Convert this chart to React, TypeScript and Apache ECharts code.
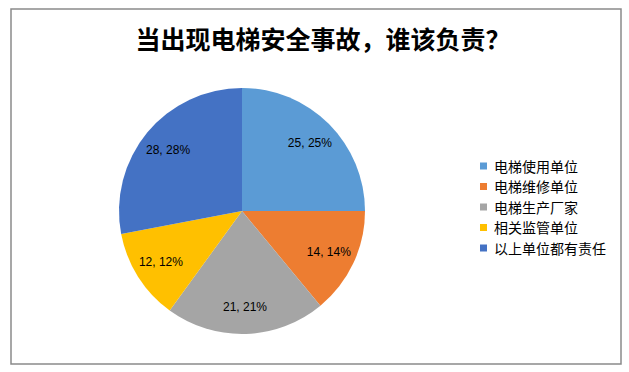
import React, { useEffect, useRef } from "react";
import * as echarts from "echarts";

const title = "当出现电梯安全事故，谁该负责？";
const categories = ["电梯使用单位", "电梯维修单位", "电梯生产厂家", "相关监管单位", "以上单位都有责任"];
const values = [25, 14, 21, 12, 28];
const colors = ["#5B9BD5", "#ED7D31", "#A5A5A5", "#FFC000", "#4472C4"];

export default function App() {
  const ref = useRef<HTMLDivElement>(null);
  useEffect(() => {
    const chart = echarts.init(ref.current!, null, { renderer: "svg" });
    const data = categories.map((name, i) => ({ name, value: values[i] }));
    const total = values.reduce((a, b) => a + b, 0);
    chart.setOption({
      animation: false,
      backgroundColor: "#ffffff",
      color: colors,
      title: {
        text: title,
        left: 318,
        top: 20,
        textAlign: "center",
        textStyle: {
          fontFamily: "Noto Sans CJK SC",
          fontWeight: "bold",
          fontSize: 25,
          color: "#000000",
        },
      },
      graphic: [
        {
          type: "rect",
          shape: { x: 11, y: 9, width: 610, height: 355 },
          style: { fill: "none", stroke: "#8a8a8a", lineWidth: 1.5 },
          silent: true,
          z: 0,
        },
      ],
      legend: {
        orient: "vertical",
        left: 475,
        top: 154,
        itemWidth: 7,
        itemHeight: 7,
        itemGap: 6.5,
        icon: "rect",
        data: categories,
        textStyle: {
          fontFamily: "Noto Sans CJK SC",
          fontSize: 14,
          color: "#000000",
          padding: [0, 0, 0, 2],
        },
      },
      series: [
        {
          type: "pie",
          center: [242, 211],
          radius: [0, 123],
          startAngle: 90,
          clockwise: true,
          data,
          label: { show: false },
          labelLine: { show: false },
          emphasis: { disabled: true },
          itemStyle: { borderWidth: 0 },
        },
        {
          type: "pie",
          center: [242, 211],
          radius: [62, 124],
          startAngle: 90,
          clockwise: true,
          silent: true,
          data,
          itemStyle: { color: "rgba(0,0,0,0)", borderWidth: 0 },
          emphasis: { disabled: true },
          labelLine: { show: false },
          label: {
            show: true,
            position: "inside",
            fontFamily: "Liberation Sans",
            fontSize: 12,
            color: "#000000",
            formatter: (p: any) => `${p.value}, ${Math.round((p.value / total) * 100)}%`,
          },
        },
      ],
    });
    return () => chart.dispose();
  }, []);
  return (
    <div
      ref={ref}
      style={{ position: "fixed", left: 0, top: 0, width: 629, height: 372 }}
    />
  );
}
